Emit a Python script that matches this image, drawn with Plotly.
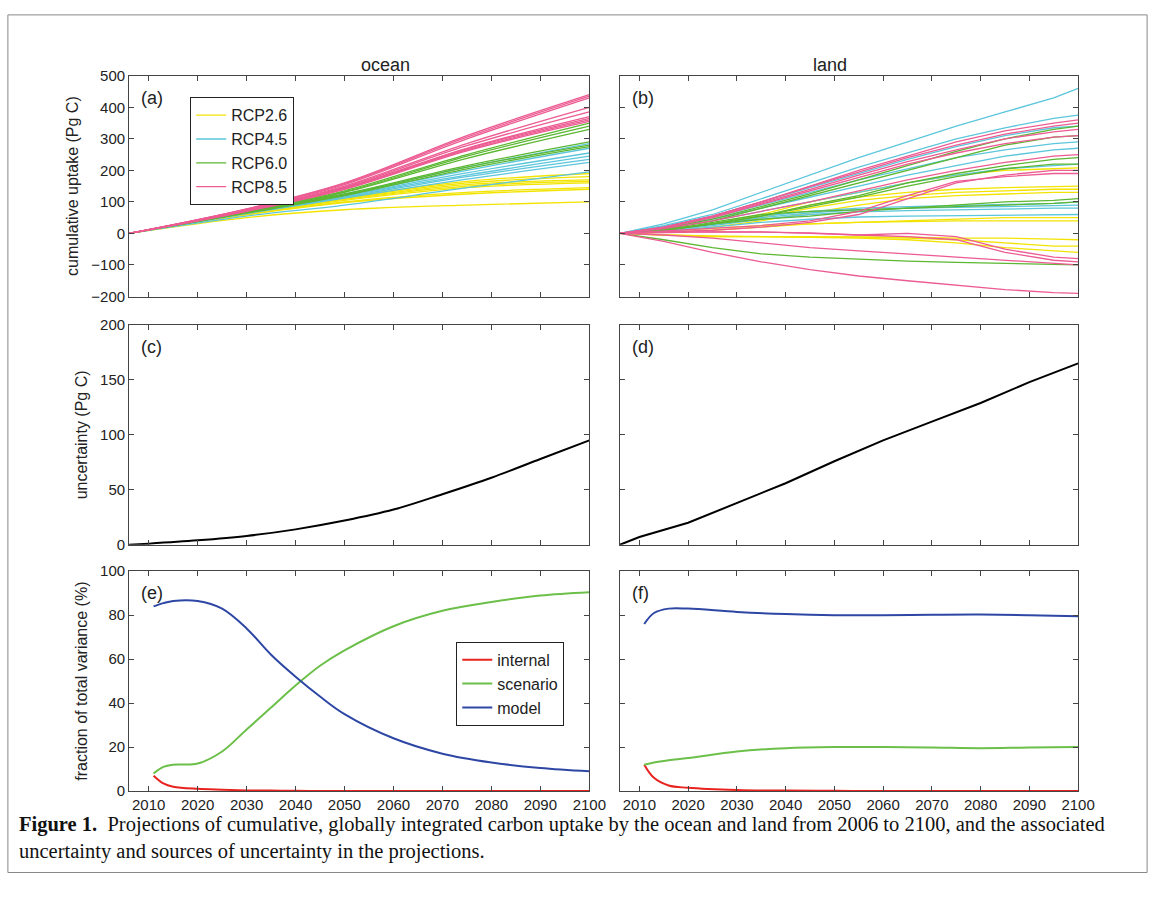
import plotly.graph_objects as go
from plotly.subplots import make_subplots

# ---- data ----
years_ocean = [2006, 2030, 2050, 2075, 2100]
ocean_rcp85 = [[0, 78, 160, 310, 440], [0, 77, 158, 305, 435], [0, 76, 155, 300, 430],
               [0, 74, 150, 285, 400], [0, 73, 147, 278, 385], [0, 72, 145, 270, 370],
               [0, 72, 143, 268, 365], [0, 71, 142, 265, 360], [0, 70, 140, 262, 355]]
ocean_rcp60 = [[0, 70, 135, 250, 350], [0, 69, 132, 245, 340], [0, 68, 130, 238, 330],
               [0, 66, 125, 215, 290], [0, 65, 122, 210, 280], [0, 65, 120, 205, 275]]
ocean_rcp45 = [[0, 68, 125, 210, 285], [0, 67, 122, 200, 270], [0, 66, 120, 192, 255],
               [0, 65, 118, 185, 245], [0, 64, 115, 180, 235], [0, 63, 112, 172, 225],
               [0, 55, 90, 145, 195]]
ocean_rcp26 = [[0, 66, 115, 165, 190], [0, 65, 112, 160, 180], [0, 64, 110, 155, 170],
               [0, 63, 108, 150, 165], [0, 62, 105, 145, 160], [0, 60, 100, 130, 145],
               [0, 59, 98, 125, 140], [0, 50, 75, 90, 100]]

years_land = [2006, 2015, 2025, 2035, 2045, 2055, 2065, 2075, 2085, 2095, 2100]
land_rcp45 = [[0, 30, 75, 130, 185, 240, 290, 340, 385, 430, 460],
              [0, 25, 60, 110, 160, 210, 255, 300, 335, 365, 375],
              [0, 22, 55, 100, 145, 190, 235, 275, 310, 335, 340],
              [0, 20, 50, 90, 130, 170, 205, 240, 265, 285, 290],
              [0, 18, 45, 80, 115, 150, 185, 215, 245, 265, 270],
              [0, 15, 40, 70, 100, 130, 160, 185, 205, 215, 220],
              [0, 12, 30, 55, 70, 80, 85, 88, 92, 95, 100],
              [0, 10, 28, 50, 65, 75, 80, 82, 85, 88, 90],
              [0, 8, 25, 45, 60, 68, 72, 75, 78, 80, 80],
              [0, 6, 20, 35, 45, 52, 55, 57, 58, 60, 60]]
land_rcp85 = [[0, 20, 55, 100, 150, 200, 245, 290, 325, 350, 360],
              [0, 20, 55, 100, 148, 195, 240, 280, 315, 340, 350],
              [0, 18, 52, 95, 140, 185, 228, 265, 300, 322, 330],
              [0, 18, 50, 92, 135, 178, 220, 255, 285, 305, 310],
              [0, 15, 40, 70, 100, 135, 170, 200, 225, 245, 250],
              [0, 5, 10, 20, 35, 60, 110, 160, 185, 200, 200],
              [0, 8, 15, 25, 40, 70, 120, 165, 180, 190, 190],
              [0, 5, 5, 5, 0, -5, 0, -10, -50, -75, -80],
              [0, 3, 5, 4, 2, -5, -10, -20, -60, -85, -90],
              [0, -5, -15, -30, -45, -55, -65, -75, -85, -95, -100],
              [0, -25, -60, -90, -115, -135, -150, -165, -178, -188, -190]]
land_rcp60 = [[0, 15, 45, 85, 125, 170, 215, 260, 300, 330, 340],
              [0, 12, 40, 80, 120, 160, 200, 240, 280, 305, 310],
              [0, 10, 30, 55, 90, 120, 160, 190, 215, 235, 240],
              [0, 10, 30, 55, 85, 115, 150, 180, 205, 220, 220],
              [0, 10, 30, 45, 55, 70, 80, 90, 100, 105, 110],
              [0, 8, 35, 60, 70, 75, 80, 85, 90, 95, 100],
              [0, -20, -45, -65, -75, -82, -88, -92, -95, -98, -100]]
land_rcp26 = [[0, 10, 30, 60, 100, 130, 160, 185, 200, 205, 208],
              [0, 10, 30, 55, 90, 115, 130, 140, 145, 148, 150],
              [0, 8, 28, 50, 80, 105, 120, 130, 135, 140, 140],
              [0, 5, 20, 40, 65, 90, 110, 120, 125, 130, 130],
              [0, 8, 15, 25, 30, 35, 40, 45, 50, 50, 50],
              [0, 3, 10, 20, 30, 35, 38, 40, 40, 40, 40],
              [0, -5, -10, -10, -10, -10, -12, -15, -15, -18, -20],
              [0, -5, -10, -10, -10, -12, -15, -20, -30, -40, -40],
              [0, -5, -8, -10, -12, -15, -20, -30, -45, -55, -60]]

years_unc = [2006, 2010, 2020, 2030, 2040, 2050, 2060, 2070, 2080, 2090, 2100]
ocean_unc = [0, 1, 4, 8, 14, 22, 32, 46, 61, 78, 95]
land_unc = [0, 7, 20, 38, 56, 76, 95, 112, 129, 148, 165]

years_oc_var = [2011, 2013, 2015, 2020, 2025, 2030, 2035, 2040, 2045, 2050, 2060, 2070, 2080, 2090, 2100]
ocean_model = [84, 85.5, 86.5, 86.5, 83, 74, 62, 52, 43, 35, 24, 17, 13, 10.5, 9]
ocean_scenario = [8, 11, 12, 12.5, 18, 28, 38, 48, 57, 64, 75, 82, 86, 89, 90.5]
ocean_internal = [7, 3.5, 2, 1, 0.6, 0.3, 0.2, 0.1, 0.05, 0, 0, 0, 0, 0, 0]

years_ld_var = [2011, 2013, 2016, 2020, 2030, 2040, 2050, 2060, 2070, 2080, 2090, 2100]
land_model = [76, 81, 83, 83, 81.5, 80.5, 80, 80, 80.2, 80.3, 80, 79.5]
land_scenario = [12, 13, 14, 15, 18, 19.5, 20, 20, 19.8, 19.5, 19.8, 20]
land_internal = [12, 6, 2.5, 1.5, 0.5, 0.2, 0.1, 0, 0, 0, 0, 0]

rcp_colors = {"RCP2.6": "#f2e400", "RCP4.5": "#5cc6dc", "RCP6.0": "#5cb732", "RCP8.5": "#ec5c93"}
ocean_sets = {"RCP2.6": ocean_rcp26, "RCP4.5": ocean_rcp45, "RCP6.0": ocean_rcp60, "RCP8.5": ocean_rcp85}
land_sets = {"RCP2.6": land_rcp26, "RCP4.5": land_rcp45, "RCP6.0": land_rcp60, "RCP8.5": land_rcp85}

fig = make_subplots(rows=3, cols=2)

for name in ["RCP2.6", "RCP4.5", "RCP6.0", "RCP8.5"]:
    for i, vals in enumerate(ocean_sets[name]):
        fig.add_trace(go.Scatter(x=years_ocean, y=vals, mode="lines", line_shape="spline",
                                 line=dict(color=rcp_colors[name], width=1.3), name=name,
                                 showlegend=(i == 0), legend="legend"), 1, 1)
    for vals in land_sets[name]:
        fig.add_trace(go.Scatter(x=years_land, y=vals, mode="lines",
                                 line=dict(color=rcp_colors[name], width=1.3),
                                 showlegend=False), 1, 2)

fig.add_trace(go.Scatter(x=years_unc, y=ocean_unc, mode="lines", line_shape="spline",
                         line=dict(color="black", width=2), showlegend=False), 2, 1)
fig.add_trace(go.Scatter(x=years_unc, y=land_unc, mode="lines",
                         line=dict(color="black", width=2), showlegend=False), 2, 2)

var_colors = {"internal": "#e8231f", "scenario": "#6cc04a", "model": "#2e47a5"}
for nm, oc, ld in [("internal", ocean_internal, land_internal),
                   ("scenario", ocean_scenario, land_scenario),
                   ("model", ocean_model, land_model)]:
    fig.add_trace(go.Scatter(x=years_oc_var, y=oc, mode="lines", line_shape="spline", name=nm,
                             line=dict(color=var_colors[nm], width=2), legend="legend2"), 3, 1)
    fig.add_trace(go.Scatter(x=years_ld_var, y=ld, mode="lines", line_shape="spline",
                             line=dict(color=var_colors[nm], width=2), showlegend=False), 3, 2)

W, H = 1171, 906
xd = [[131 / W, 598 / W], [629 / W, 1094 / W]]
yd = [[1 - 293 / H, 1 - 68 / H], [1 - 546 / H, 1 - 322 / H], [1 - 797 / H, 1 - 573 / H]]
yr = [[-200, 500], [0, 200], [0, 100]]
ydt = [100, 50, 20]
axis_style = dict(showline=True, linecolor="#444", linewidth=1, mirror="ticks", ticks="inside",
                  ticklen=5, tickcolor="#444", showgrid=False, zeroline=False,
                  tickfont=dict(size=15, color="#222"))
ytitles = ["cumulative uptake (Pg C)", "uncertainty (Pg C)", "fraction of total variance (%)"]
for r in range(3):
    for c in range(2):
        fig.update_xaxes(domain=xd[c], range=[2006, 2100], tick0=2010, dtick=10,
                         showticklabels=(r == 2), row=r + 1, col=c + 1, **axis_style)
        fig.update_yaxes(domain=yd[r], range=yr[r], dtick=ydt[r], showticklabels=(c == 0),
                         title=dict(text=ytitles[r] if c == 0 else "", font=dict(size=16, color="#222"),
                                    standoff=8),
                         row=r + 1, col=c + 1, **axis_style)

letters = ["(a)", "(b)", "(c)", "(d)", "(e)", "(f)"]
ann = []
k = 0
for r in range(3):
    for c in range(2):
        ann.append(dict(x=xd[c][0] + 10 / W, y=yd[r][1] - 10 / H, xref="paper", yref="paper",
                        text=letters[k], showarrow=False, xanchor="left", yanchor="top",
                        font=dict(size=18, color="#222")))
        k += 1
ann.append(dict(x=sum(xd[0]) / 2, y=1 - 45 / H, xref="paper", yref="paper", text="ocean",
                showarrow=False, font=dict(size=18, color="#222")))
ann.append(dict(x=sum(xd[1]) / 2, y=1 - 45 / H, xref="paper", yref="paper", text="land",
                showarrow=False, font=dict(size=18, color="#222")))
ann.append(dict(x=17 / W, y=1 - 817 / H, xref="paper", yref="paper", xanchor="left", yanchor="top",
                showarrow=False, align="left",
                font=dict(family="Liberation Serif", size=20.5, color="#111"),
                text="<b>Figure 1.</b>  Projections of cumulative, globally integrated carbon uptake by the ocean and land from 2006 to 2100, and the associated<br>uncertainty and sources of uncertainty in the projections."))

fig.update_layout(
    autosize=True, margin=dict(l=0, r=0, t=0, b=0),
    paper_bgcolor="white", plot_bgcolor="white",
    font=dict(family="Liberation Sans", color="#222"),
    annotations=ann,
    legend=dict(x=193 / W, y=1 - 90 / H, xanchor="left", yanchor="top", bordercolor="#222",
                borderwidth=1, bgcolor="white", font=dict(size=16), tracegroupgap=0),
    legend2=dict(x=463 / W, y=1 - 645 / H, xanchor="left", yanchor="top", bordercolor="#222",
                 borderwidth=1, bgcolor="white", font=dict(size=16), tracegroupgap=0),
    shapes=[dict(type="rect", xref="paper", yref="paper", x0=8 / W, x1=1164 / W, y0=1 - 880 / H,
                 y1=1 - 6 / H, line=dict(color="#888", width=1))],
)

fig.write_html("out.html", config={"displayModeBar": False, "responsive": True},
               default_width="100vw", default_height="100vh",
               post_script="document.body.style.margin='0';document.body.style.overflow='hidden';")
